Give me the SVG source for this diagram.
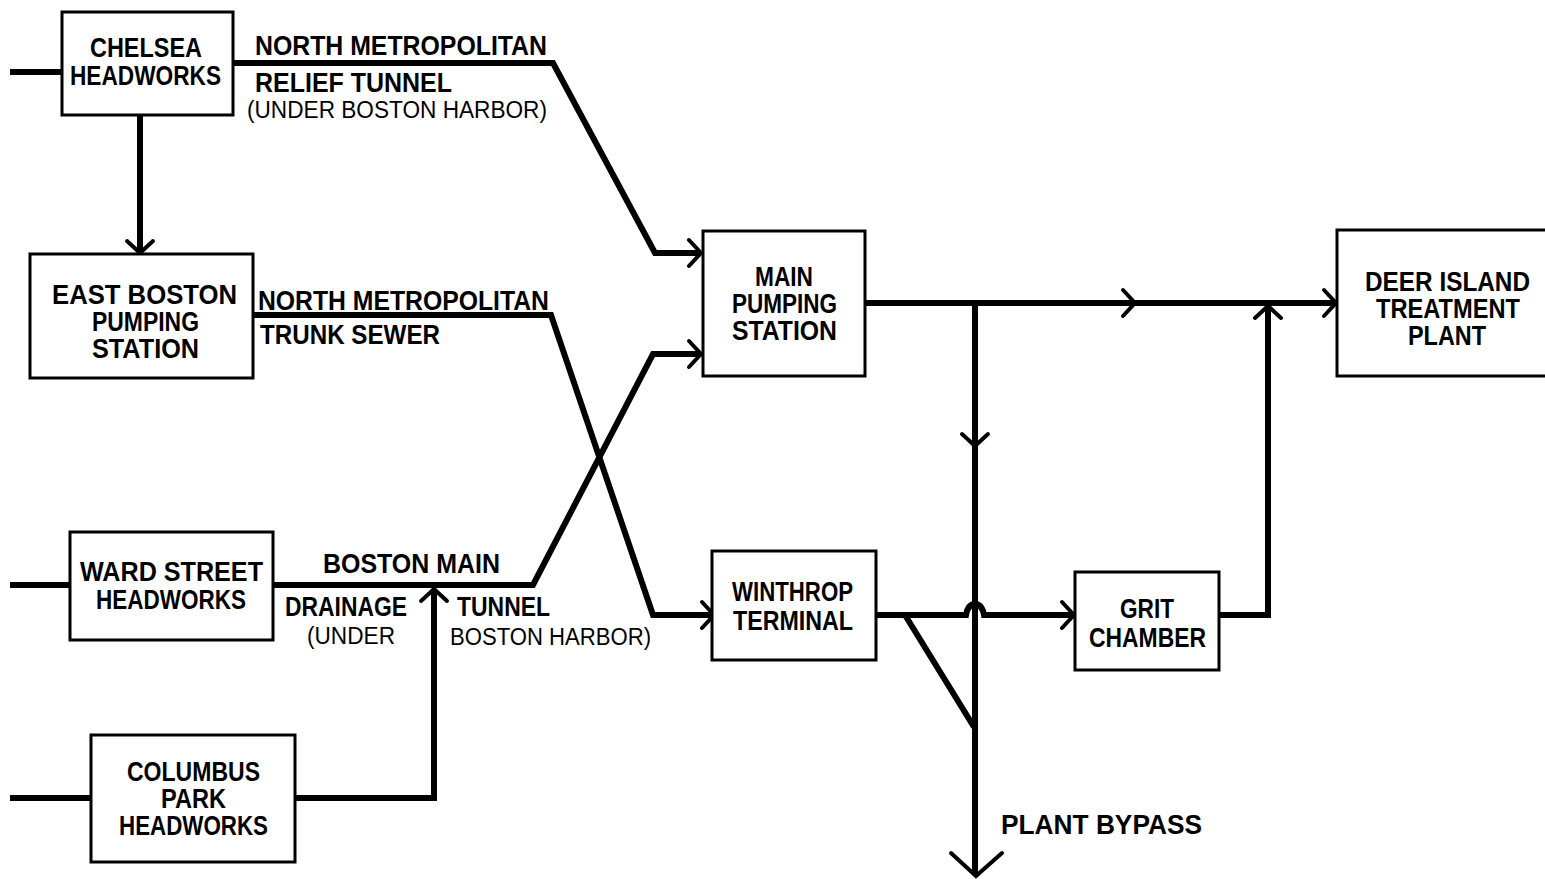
<svg xmlns="http://www.w3.org/2000/svg" width="1545" height="879" viewBox="0 0 1545 879">
<style>
.box{fill:#fff;stroke:#000;stroke-width:3}
.t{font-family:"Liberation Sans",Arial,sans-serif;font-weight:bold;font-size:27px;fill:#000}
.r{font-family:"Liberation Sans",Arial,sans-serif;font-size:23px;fill:#000}
.ln{fill:none;stroke:#000;stroke-width:6;stroke-linejoin:miter}
.ch{fill:none;stroke:#000;stroke-width:4;stroke-linecap:round;stroke-linejoin:miter}
</style>
<defs>
<path id="chev" class="ch" d="M-12,-13 L0,0 L-12,13"/>
</defs>
<rect width="1545" height="879" fill="#fff"/>
<g id="connectors">
<path class="ln" d="M10,72 H62"/>
<path class="ln" d="M233,63 H553 L655,253 H701"/>
<path class="ln" d="M140,115 V252"/>
<path class="ln" d="M253,315 H551 L653,615 H712"/>
<path class="ln" d="M10,585 H70"/>
<path class="ln" d="M273,585 H533 L653,354 H701"/>
<path class="ln" d="M10,798 H91"/>
<path class="ln" d="M295,798 H434 V590"/>
<path class="ln" d="M865,303 H1335"/>
<path class="ln" d="M975,303 V873"/>
<path class="ln" d="M876,615 H966 Q968,604 975,604 Q982,604 984,615 H1073"/>
<path class="ln" d="M905,615 L974,727"/>
<path class="ln" d="M1219,615 H1268 V307"/>
<use href="#chev" transform="translate(701,253)"/>
<use href="#chev" transform="translate(701,354)"/>
<use href="#chev" transform="translate(714,615)"/>
<use href="#chev" transform="translate(140,253) rotate(90)"/>
<use href="#chev" transform="translate(434,589) rotate(-90)"/>
<use href="#chev" transform="translate(1135,303)"/>
<use href="#chev" transform="translate(1336,303)"/>
<use href="#chev" transform="translate(975,446) rotate(90)"/>
<use href="#chev" transform="translate(1268,306) rotate(-90)"/>
<use href="#chev" transform="translate(1074,615)"/>
<path class="ch" d="M951,853 L976,876 L1002,853"/>
</g>
<g id="labels">
<text class="t" x="255" y="55" textLength="292" lengthAdjust="spacingAndGlyphs">NORTH METROPOLITAN</text>
<text class="t" x="255" y="92" textLength="197" lengthAdjust="spacingAndGlyphs">RELIEF TUNNEL</text>
<text class="r" x="247" y="118" textLength="300" lengthAdjust="spacingAndGlyphs">(UNDER BOSTON HARBOR)</text>
<text class="t" x="258" y="310" textLength="291" lengthAdjust="spacingAndGlyphs">NORTH METROPOLITAN</text>
<text class="t" x="260" y="344" textLength="180" lengthAdjust="spacingAndGlyphs">TRUNK SEWER</text>
<text class="t" x="323" y="573" textLength="177" lengthAdjust="spacingAndGlyphs">BOSTON MAIN</text>
<text class="t" x="285" y="616" textLength="122" lengthAdjust="spacingAndGlyphs">DRAINAGE</text>
<text class="r" x="307" y="644" textLength="88" lengthAdjust="spacingAndGlyphs">(UNDER</text>
<text class="t" x="457" y="616" textLength="93" lengthAdjust="spacingAndGlyphs">TUNNEL</text>
<text class="r" x="450" y="645" textLength="201" lengthAdjust="spacingAndGlyphs">BOSTON HARBOR)</text>
<text class="t" x="1001" y="834" textLength="201" lengthAdjust="spacingAndGlyphs">PLANT BYPASS</text>
</g>
<g id="chelsea">
<rect class="box" x="62" y="12" width="171" height="103"/>
<text class="t" x="90" y="57" textLength="112" lengthAdjust="spacingAndGlyphs">CHELSEA</text>
<text class="t" x="70" y="85" textLength="151" lengthAdjust="spacingAndGlyphs">HEADWORKS</text>
</g>
<g id="east-boston">
<rect class="box" x="30" y="254" width="223" height="124"/>
<text class="t" x="52" y="304" textLength="185" lengthAdjust="spacingAndGlyphs">EAST BOSTON</text>
<text class="t" x="92" y="331" textLength="107" lengthAdjust="spacingAndGlyphs">PUMPING</text>
<text class="t" x="92" y="358" textLength="107" lengthAdjust="spacingAndGlyphs">STATION</text>
</g>
<g id="ward-street">
<rect class="box" x="70" y="532" width="203" height="108"/>
<text class="t" x="80" y="581" textLength="183" lengthAdjust="spacingAndGlyphs">WARD STREET</text>
<text class="t" x="96" y="609" textLength="150" lengthAdjust="spacingAndGlyphs">HEADWORKS</text>
</g>
<g id="columbus-park">
<rect class="box" x="91" y="735" width="204" height="127"/>
<text class="t" x="127" y="781" textLength="133" lengthAdjust="spacingAndGlyphs">COLUMBUS</text>
<text class="t" x="161" y="808" textLength="65" lengthAdjust="spacingAndGlyphs">PARK</text>
<text class="t" x="119" y="835" textLength="149" lengthAdjust="spacingAndGlyphs">HEADWORKS</text>
</g>
<g id="main-pumping">
<rect class="box" x="703" y="231" width="162" height="145"/>
<text class="t" x="755" y="286" textLength="58" lengthAdjust="spacingAndGlyphs">MAIN</text>
<text class="t" x="732" y="313" textLength="105" lengthAdjust="spacingAndGlyphs">PUMPING</text>
<text class="t" x="732" y="340" textLength="105" lengthAdjust="spacingAndGlyphs">STATION</text>
</g>
<g id="winthrop">
<rect class="box" x="712" y="551" width="164" height="109"/>
<text class="t" x="732" y="601" textLength="121" lengthAdjust="spacingAndGlyphs">WINTHROP</text>
<text class="t" x="733" y="630" textLength="120" lengthAdjust="spacingAndGlyphs">TERMINAL</text>
</g>
<g id="grit">
<rect class="box" x="1075" y="572" width="144" height="98"/>
<text class="t" x="1120" y="618" textLength="54" lengthAdjust="spacingAndGlyphs">GRIT</text>
<text class="t" x="1089" y="647" textLength="117" lengthAdjust="spacingAndGlyphs">CHAMBER</text>
</g>
<g id="deer-island">
<rect class="box" x="1337" y="230" width="215" height="146"/>
<text class="t" x="1365" y="291" textLength="165" lengthAdjust="spacingAndGlyphs">DEER ISLAND</text>
<text class="t" x="1376" y="318" textLength="144" lengthAdjust="spacingAndGlyphs">TREATMENT</text>
<text class="t" x="1408" y="345" textLength="78" lengthAdjust="spacingAndGlyphs">PLANT</text>
</g>
</svg>
